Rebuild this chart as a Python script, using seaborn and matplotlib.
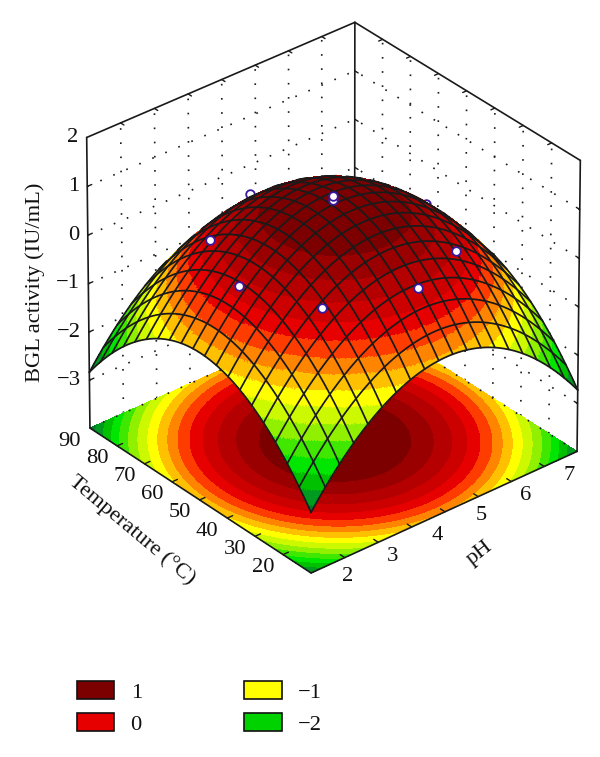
import numpy as np
import matplotlib
matplotlib.use('Agg')
import matplotlib.pyplot as plt
import seaborn as sns
from matplotlib.patches import Patch
from mpl_toolkits.mplot3d import proj3d

sns.set_theme(style="white")
plt.rcParams['font.family'] = ['Liberation Serif', 'DejaVu Sans']

W, H = 600, 757
FS = 16.2

# activity, rows = temperature, columns = pH
ph_read = [1.5, 3.0, 4.5, 6.0, 7.5]
temp_read = [10, 30, 50, 70, 90]
bgl_read = [
    [-2.75, -1.28, -0.78, -1.31, -2.70],
    [-1.40, 0.07, 0.57, 0.04, -1.35],
    [-0.95, 0.52, 1.02, 0.49, -0.90],
    [-1.42, 0.05, 0.55, 0.02, -1.37],
    [-2.85, -1.38, -0.88, -1.41, -2.80],
]

# experimental points
pts_ph = [3.0, 6.0, 3.0, 4.5, 2.4, 4.5, 4.5, 4.5, 6.6]
pts_temp = [30, 30, 70, 20, 50, 50, 50, 80, 50]
pts_bgl = [0.09, 0.03, 0.02, 0.24, 0.04, 0.95, 1.03, 0.00, 0.04]
pts_hidden = [False, False, False, False, False, False, False, True, True]

ph_labels = [2, 3, 4, 5, 6, 7]
temp_labels = [20, 30, 40, 50, 60, 70, 80, 90]
z_labels = [-3, -2, -1, 0, 1, 2]
ph_ticks = [2.25, 3.0, 3.75, 4.5, 5.25, 6.0, 6.75]
temp_ticks = [20, 30, 40, 50, 60, 70, 80]
legend_values = ['1', '0', '\u22121', '\u22122']
legend_colors = ['#7d0000', '#e60000', '#ffff00', '#00d200']

# contour bands, from lowest to highest
band_colors = ['#00782c', '#009a20', '#00c000', '#00e600', '#40e800', '#90f000', '#ccf800',
               '#ffff00', '#ffc000', '#ff8400', '#ff3c00', '#e60000', '#cd0000', '#b40000',
               '#9a0000', '#7d0000']
band_limits = [-2.65, -2.41, -2.17, -1.94, -1.70, -1.46, -1.22, -0.99, -0.77, -0.56, -0.33,
               -0.10, 0.14, 0.39, 0.64]

PH_MIN, PH_MAX = 1.5, 7.5
T_MIN, T_MAX = 10, 90
Z_MIN, Z_MAX = -4, 2
N_MESH = 19


def termos(p, t):
    return np.stack([np.ones_like(p), p, t, p**2, t**2, p*t], axis=-1)


# quadratic response surface through the values
pp, tt = np.meshgrid(np.array(ph_read), np.array(temp_read, dtype=float))
coef = np.linalg.lstsq(termos(pp.ravel(), tt.ravel()),
                       np.array(bgl_read).ravel(), rcond=None)[0]


def superficie(p, t):
    return termos(p, t) @ coef


cores = sns.color_palette(band_colors)
niveis = np.array(band_limits)

fig = plt.figure(figsize=(W / 100, H / 100), dpi=100)
ax = fig.add_axes([0, 0, 1, 1], projection='3d', computed_zorder=False)
ax.set_proj_type('persp', focal_length=4.2)
ax.view_init(elev=32, azim=-129.9)
ax.set_xlim(PH_MIN, PH_MAX, view_margin=0)
ax.set_ylim(T_MIN, T_MAX, view_margin=0)
ax.set_zlim(Z_MIN, Z_MAX, view_margin=0)
ax.set_axis_off()
ax.patch.set_alpha(0)
fig.patch.set_facecolor('white')


def para_px(x, y, z):
    xs, ys, _ = proj3d.proj_transform(x, y, z, ax.get_proj())
    pos = ax.transData.transform(np.column_stack([np.ravel(xs), np.ravel(ys)]))
    return pos[:, 0], H - pos[:, 1]


# fit the box to the reference: left corner x=90, right corner x=577, centre
ASPECTO = (1, 1, 0.985)
ax.set_box_aspect(ASPECTO, zoom=1.0)
fig.canvas.draw()
xl, _ = para_px(PH_MIN, T_MAX, Z_MIN)
xr, _ = para_px(PH_MAX, T_MIN, Z_MIN)
ax.set_box_aspect(ASPECTO, zoom=487 / (xr[0] - xl[0]))
fig.canvas.draw()
xl, _ = para_px(PH_MIN, T_MAX, Z_MIN)
xr, _ = para_px(PH_MAX, T_MIN, Z_MIN)
_, yf = para_px(PH_MIN, T_MIN, Z_MIN)
dx = 333.5 - (xl[0] + xr[0]) / 2
dy = 573 - yf[0]
ax.set_position([dx / W, -dy / H, 1, 1])
fig.canvas.draw()

# dotted grid on the two back walls
PONTILHADO = (0, (1, 7.5))
LW_PONTO = 1.2
for p in ph_ticks:
    ax.plot([p, p], [T_MAX, T_MAX], [Z_MIN, Z_MAX], color='k', lw=LW_PONTO, ls=PONTILHADO, zorder=0)
for t in temp_ticks:
    ax.plot([PH_MAX, PH_MAX], [t, t], [Z_MIN, Z_MAX], color='k', lw=LW_PONTO, ls=PONTILHADO, zorder=0)
for z in z_labels[:-1]:
    ax.plot([PH_MIN, PH_MAX], [T_MAX, T_MAX], [z, z], color='k', lw=LW_PONTO, ls=PONTILHADO, zorder=0)
    ax.plot([PH_MAX, PH_MAX], [T_MIN, T_MAX], [z, z], color='k', lw=LW_PONTO, ls=PONTILHADO, zorder=0)
ax.plot([PH_MIN, PH_MAX], [T_MAX, T_MAX], [Z_MIN, Z_MIN], color='k', lw=LW_PONTO, ls=PONTILHADO, zorder=1.55)
ax.plot([PH_MAX, PH_MAX], [T_MIN, T_MAX], [Z_MIN, Z_MIN], color='k', lw=LW_PONTO, ls=PONTILHADO, zorder=1.55)

# box outline
for xs, ys, zs in [
    ([PH_MIN, PH_MIN], [T_MAX, T_MAX], [Z_MIN, Z_MAX]),
    ([PH_MAX, PH_MAX], [T_MIN, T_MIN], [Z_MIN, Z_MAX]),
    ([PH_MAX, PH_MAX], [T_MAX, T_MAX], [Z_MIN, Z_MAX]),
    ([PH_MIN, PH_MAX], [T_MAX, T_MAX], [Z_MAX, Z_MAX]),
    ([PH_MAX, PH_MAX], [T_MIN, T_MAX], [Z_MAX, Z_MAX]),
]:
    ax.plot(xs, ys, zs, color='k', lw=1.2, zorder=1)

# contours on the floor
pf, tf = np.meshgrid(np.linspace(PH_MIN, PH_MAX, 300), np.linspace(T_MIN, T_MAX, 300))
zf = superficie(pf, tf)
ax.contourf(pf, tf, zf, levels=np.r_[-20, niveis, 20], colors=cores, zdir='z',
            offset=Z_MIN, zorder=1.5, antialiased=False)

# floor front edges with ticks
ax.plot([PH_MIN, PH_MAX], [T_MIN, T_MIN], [Z_MIN, Z_MIN], color='k', lw=1.2, zorder=1.6)
ax.plot([PH_MIN, PH_MIN], [T_MIN, T_MAX], [Z_MIN, Z_MIN], color='k', lw=1.2, zorder=1.6)
for p in ph_ticks:
    ax.plot([p, p], [T_MIN, T_MIN + 1.6], [Z_MIN, Z_MIN], color='k', lw=1, zorder=1.6)
    ax.plot([p, p], [T_MAX, T_MAX - 1.2], [Z_MAX, Z_MAX], color='k', lw=1, zorder=1)
for t in temp_ticks:
    ax.plot([PH_MIN, PH_MIN + 0.12], [t, t], [Z_MIN, Z_MIN], color='k', lw=1, zorder=1.6)
    ax.plot([PH_MAX, PH_MAX - 0.09], [t, t], [Z_MAX, Z_MAX], color='k', lw=1, zorder=1)
for z in z_labels[:-1]:
    ax.plot([PH_MIN, PH_MIN + 0.1], [T_MAX, T_MAX], [z, z], color='k', lw=1, zorder=1)
    ax.plot([PH_MAX, PH_MAX], [T_MAX - 1.2, T_MAX], [z, z], color='k', lw=1, zorder=1)
    ax.plot([PH_MAX, PH_MAX], [T_MIN, T_MIN + 1.2], [z, z], color='k', lw=1, zorder=1)

# points behind the dome
mk = dict(marker='o', ms=6.2, mfc='white', mec='#3a17a0', mew=1.3, ls='none')
for p, t, z, atras in zip(pts_ph, pts_temp, pts_bgl, pts_hidden):
    if atras:
        ax.plot([p], [t], [z], zorder=2, **mk)

# dome, fine cells with banded colour
ps, ts = np.meshgrid(np.linspace(PH_MIN, PH_MAX, 321), np.linspace(T_MIN, T_MAX, 321))
zs = superficie(ps, ts)
zc = (zs[:-1, :-1] + zs[1:, 1:] + zs[1:, :-1] + zs[:-1, 1:]) / 4
paleta = np.array([matplotlib.colors.to_rgba(c) for c in cores])
ax.plot_surface(ps, ts, zs, facecolors=paleta[np.digitize(zc, niveis)], rstride=1, cstride=1,
                shade=False, linewidth=0, antialiased=False, zorder=3)


def mascara_frente(p, t):
    """True where the surface faces the viewer, the dome is convex."""
    e_p, e_t = 1e-3, 1e-2
    x0, y0 = para_px(p, t, superficie(p, t))
    x1, y1 = para_px(p + e_p, t, superficie(p + e_p, t))
    x2, y2 = para_px(p, t + e_t, superficie(p, t + e_t))
    det = (x1 - x0) * (y0 - y2) - (y0 - y1) * (x2 - x0)
    return det > 0


# mesh lines
amostra = 400
for p in np.linspace(PH_MIN, PH_MAX, N_MESH + 1):
    t = np.linspace(T_MIN, T_MAX, amostra)
    pl = np.full(amostra, p)
    z = superficie(pl, t)
    z[~mascara_frente(pl, t)] = np.nan
    ax.plot(pl, t, z, color='k', lw=1.25, zorder=4)
for t in np.linspace(T_MIN, T_MAX, N_MESH + 1):
    p = np.linspace(PH_MIN, PH_MAX, amostra)
    tl = np.full(amostra, t)
    z = superficie(p, tl)
    z[~mascara_frente(p, tl)] = np.nan
    ax.plot(p, tl, z, color='k', lw=1.25, zorder=4)

# points in front
for p, t, z, atras in zip(pts_ph, pts_temp, pts_bgl, pts_hidden):
    if not atras:
        ax.plot([p], [t], [z], zorder=5, **mk)


def rotulo(x, y, s, **kw):
    fig.text(x / W, 1 - y / H, s, fontsize=FS, color='#111111', **kw)


for v in ph_labels:
    x, y = para_px(v, T_MIN, Z_MIN)
    rotulo(x[0] + 14, y[0] + 14, str(v), ha='center', va='center')
for v in temp_labels:
    x, y = para_px(PH_MIN, v, Z_MIN)
    rotulo(x[0] - 20, y[0] + 13, str(v), ha='center', va='center')
for v in z_labels:
    x, y = para_px(PH_MIN, T_MAX, v)
    rotulo(x[0] - 8, y[0], str(v).replace('-', '\u2212'), ha='right', va='center')

rotulo(132, 530, 'Temperature (\u00b0C)', ha='center', va='center', rotation=-40, rotation_mode='anchor')
rotulo(480, 553, 'pH', ha='center', va='center', rotation=38, rotation_mode='anchor')
rotulo(35, 282, 'BGL activity (IU/mL)', ha='center', va='center', rotation=90, rotation_mode='anchor')

handles = [Patch(facecolor=c, edgecolor='#111111', linewidth=1.2) for c in legend_colors]
fig.legend(handles, legend_values, ncol=2, loc='upper left', bbox_to_anchor=(77 / W, 1 - 681 / H),
           frameon=False, fontsize=FS, borderpad=0, borderaxespad=0, handlelength=1.66,
           handleheight=0.83, handletextpad=0.72, labelspacing=0.46, columnspacing=4.55,
           labelcolor='#111111')

fig.savefig('out.png', dpi=100)
plt.close()
